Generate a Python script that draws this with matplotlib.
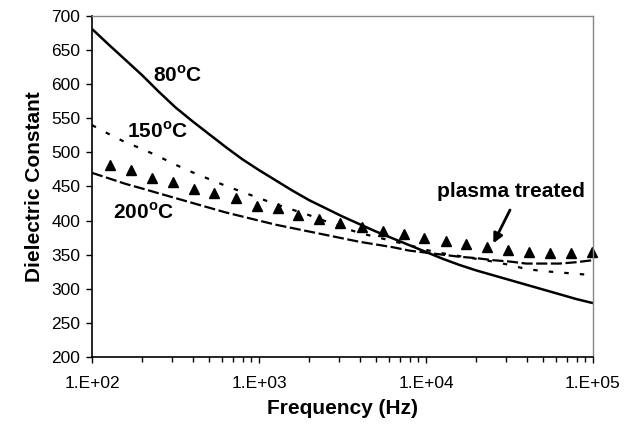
import matplotlib
matplotlib.use("Agg")
import matplotlib.pyplot as plt
import numpy as np

plt.rcParams['font.family'] = ['Liberation Sans', 'DejaVu Sans']
plt.rcParams['mathtext.fontset'] = 'custom'
plt.rcParams['mathtext.rm'] = 'Liberation Sans:bold'
plt.rcParams['mathtext.bf'] = 'Liberation Sans:bold'

# ---- data ----
freq = [100, 126, 158, 200, 251, 316, 398, 501, 631, 794,
        1000, 1259, 1585, 1995, 2512, 3162, 3981, 5012, 6310, 7943,
        10000, 12589, 15849, 19953, 25119, 31623, 39811, 50119, 63096, 79433,
        100000]
eps_80 = [681, 658, 636, 613, 589, 566, 546, 527, 508, 490,
          474, 459, 444, 430, 418, 406, 395, 384, 374, 364,
          354, 344, 335, 327, 320, 313, 306, 299, 292, 285,
          279]
eps_150 = [540, 527, 515, 505, 494, 482, 471, 461, 451, 442,
           433, 424, 416, 408, 399, 390, 382, 376, 370, 364,
           357, 352, 348, 344, 340, 335, 329, 326, 324, 322,
           320]
eps_200 = [470, 462, 454, 447, 440, 433, 426, 419, 412, 406,
           400, 394, 389, 384, 379, 374, 369, 365, 361, 356,
           353, 350, 347, 345, 342, 340, 337, 337, 337, 339,
           342]
freq_plasma = [129, 171, 228, 304, 408, 540, 728, 977, 1306, 1719,
               2297, 3055, 4120, 5510, 7380, 9770, 13120, 17300, 23070, 30820,
               41210, 55320, 73870, 99100]
eps_plasma = [482, 474, 463, 456, 447, 441, 433, 422, 418, 408,
              403, 396, 390, 385, 381, 374, 370, 365, 361, 357,
              354, 353, 353, 354]
xtick_vals = [1e2, 1e3, 1e4, 1e5]
xtick_labels = ["1.E+02", "1.E+03", "1.E+04", "1.E+05"]
ytick_vals = [200, 250, 300, 350, 400, 450, 500, 550, 600, 650, 700]

fig = plt.figure(figsize=(6.35, 4.26), dpi=100)
ax = fig.add_axes([92/635, 1-357/426, (593-92)/635, (357-16)/426])

ax.plot(freq, eps_80, color='black', lw=1.8, solid_capstyle='butt')
ax.plot(freq, eps_150, color='black', lw=1.6, linestyle=(0, (2, 5)))
ax.plot(freq, eps_200, color='black', lw=1.6, linestyle=(0, (5, 1.6)))
ax.plot(freq_plasma, eps_plasma, linestyle='none', marker='^', color='black',
        markersize=7.5, clip_on=False)

ax.set_xscale('log')
ax.set_xlim(1e2, 1e5)
ax.set_ylim(200, 700)
ax.set_xticks(xtick_vals)
ax.set_xticklabels(xtick_labels)
ax.set_yticks(ytick_vals)
ax.xaxis.set_minor_locator(matplotlib.ticker.LogLocator(base=10, subs=np.arange(2, 10)))
ax.xaxis.set_minor_formatter(matplotlib.ticker.NullFormatter())
ax.tick_params(axis='both', which='major', direction='out', length=4.5, width=1,
               labelsize=12.5, colors='black', pad=4)
ax.tick_params(axis='x', which='minor', direction='out', length=3.5, width=1)
ax.tick_params(axis='x', which='major', pad=9)

for s in ['left', 'bottom']:
    ax.spines[s].set_color('black')
    ax.spines[s].set_linewidth(1.2)
for s in ['top', 'right']:
    ax.spines[s].set_color('#888888')
    ax.spines[s].set_linewidth(1.0)

ax.set_xlabel('Frequency (Hz)', fontsize=15, fontweight='bold', labelpad=6)
ax.set_ylabel('Dielectric Constant', fontsize=15, fontweight='bold', labelpad=5)

tk = dict(fontsize=15, fontweight='bold', ha='left', va='baseline')
ax.text(232, 603, r'80$^{\mathrm{o}}$C', **tk)
ax.text(161, 521, r'150$^{\mathrm{o}}$C', **tk)
ax.text(133, 403, r'200$^{\mathrm{o}}$C', **tk)
ax.text(11590, 435, 'plasma treated', **tk)
ax.annotate('', xy=(10**4.403, 366.7), xytext=(10**4.503, 415.5),
            arrowprops=dict(arrowstyle='-|>', lw=2, color='black', mutation_scale=14,
                            shrinkA=0, shrinkB=0))

fig.savefig('out.png', dpi=100)
